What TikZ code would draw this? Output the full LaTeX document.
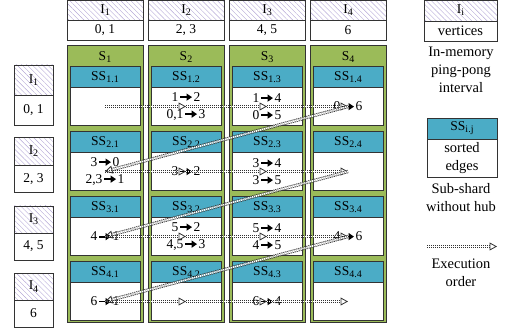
\documentclass[tikz,border=0pt]{standalone}
\usepackage{fontspec}
\setmainfont{Liberation Serif}
\usetikzlibrary{positioning,arrows.meta,patterns.meta}
\definecolor{shard}{HTML}{9BBB59}
\definecolor{subhdr}{HTML}{4BACC6}
\definecolor{hatch}{HTML}{B4A7D6}
% bold edge arrow and subscript
\newcommand{\ra}{\kern0.8pt\tikz[baseline=-4.3pt]\draw[black,solid,line width=1.7pt,-{Triangle[length=5.5pt,width=7pt]}] (0pt,0pt) -- (12pt,0pt);\kern0.8pt}
\newcommand{\idx}[1]{\raisebox{-0.35ex}{\fontsize{10}{10}\selectfont #1}}

\begin{document}
\begin{tikzpicture}[x=1pt,y=-1pt,font=\fontsize{13.5}{17}\selectfont,
      cell/.style={draw=black!80,line width=0.8pt,inner sep=0pt,outer sep=0pt,align=center},
      ivbox/.style={cell,pattern={Lines[angle=-45,distance=3.6pt,line width=0.4pt]},pattern color=hatch},
      valbox/.style={cell,fill=white},
      shardbox/.style={cell,fill=shard,minimum width=76pt,minimum height=277pt},
      hdrbox/.style={cell,fill=subhdr,minimum width=70pt,minimum height=21pt},
      edgebox/.style={cell,fill=white,minimum width=70pt,minimum height=38pt},
      legend/.style={align=center,font=\fontsize{14.5}{18}\selectfont},
      exec/.style={draw=black!80,line width=0.8pt,double=white,double distance=1.7pt,
                   dash pattern=on 1.2pt off 0.8pt,-{Triangle[open,length=7.5pt,width=8pt]}}]
    \useasboundingbox (0,0) rectangle (505,328);
    % top intervals and shards
    \foreach \j/\v in {1/{0, 1},2/{2, 3},3/{4, 5},4/6} {
      \node[ivbox,minimum width=76pt,minimum height=20pt] (ti\j) at ({105+81*(\j-1)},10.5) {I\idx{\j}};
      \node[valbox,minimum width=76pt,minimum height=20pt,below=0pt of ti\j] (tv\j) {\v};
      \node[shardbox] (s\j) at ({105+81*(\j-1)},183.5) {};
      \node (sl\j) at ({105+81*(\j-1)},57) {S\idx{\j}};
    }
    % left intervals
    \foreach \i/\t/\h/\v in {1/65/30/{0, 1},2/137.5/27.5/{2, 3},3/206/27/{4, 5},4/273/27/6} {
      \node[ivbox,minimum width=39pt,minimum height=\h pt] (li\i) at (33.5,{\t+\h/2}) {I\idx{\i}};
      \node[valbox,minimum width=39pt,minimum height=\h pt,below=0pt of li\i] (lv\i) {\v};
    }
    % sub-shards
    \foreach \i/\j/\t in {1/1/{},1/2/{1\ra2\\0,1\ra3},1/3/{1\ra4\\0\ra5},1/4/{0\ra6},
                          2/1/{3\ra0\\2,3\ra1},2/2/{3\ra2},2/3/{3\ra4\\3\ra5},2/4/{},
                          3/1/{4\ra1},3/2/{5\ra2\\4,5\ra3},3/3/{5\ra4\\4\ra5},3/4/{4\ra6},
                          4/1/{6\ra1},4/2/{},4/3/{6\ra4},4/4/{}} {
      \node[hdrbox] (h\i\j) at ({105+81*(\j-1)},{77+65*(\i-1)}) {SS\idx{\i.\j}};
      \node[edgebox,below=0pt of h\i\j] (b\i\j) {\t};
    }
    % execution order
    \foreach \i in {1,...,4} {
      \foreach \j [evaluate=\j as \k using int(\j+1)] in {1,2,3}
        \draw[exec] (b\i\j.center) -- (b\i\k.center);
    }
    \foreach \i [evaluate=\i as \k using int(\i+1)] in {1,2,3}
      \draw[exec] (b\i4.center) -- (b\k1.center);
    % legend
    \node[ivbox,minimum width=73pt,minimum height=21pt] (gi) at (460.5,10.5) {I\idx{i}};
    \node[valbox,legend,minimum width=73pt,minimum height=20pt,below=0pt of gi] (gv) {vertices};
    \node[legend] (gt1) at (461,70) {In-memory\\ping-pong\\interval};
    \node[hdrbox] (gh) at (462,128.5) {SS\idx{i.j}};
    \node[edgebox,legend,below=0pt of gh] (gb) {sorted\\edges};
    \node[legend] (gt2) at (461,198) {Sub-shard\\without hub};
    \coordinate (ga) at (427,246.5);
    \coordinate (gz) at (497,246.5);
    \draw[exec] (ga) -- (gz);
    \node[legend] (gt3) at (461,273) {Execution\\order};
  \end{tikzpicture}
\end{document}
